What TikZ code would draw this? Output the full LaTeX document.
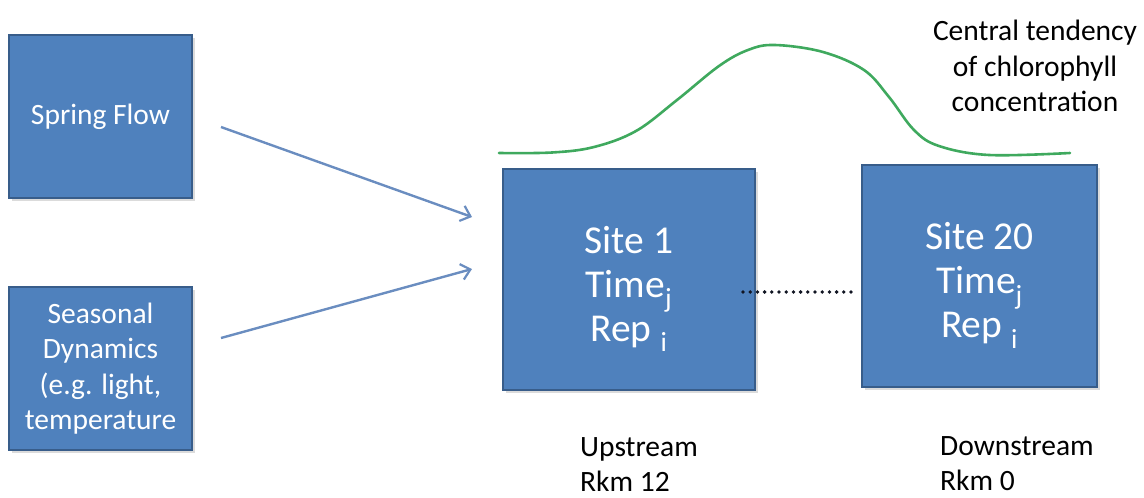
\documentclass[tikz,border=0pt]{standalone}
\usepackage{fontspec}
\setmainfont{Carlito}
\usetikzlibrary{arrows.meta,shadows}
\definecolor{boxfill}{HTML}{4F81BD}
\definecolor{boxline}{HTML}{385D8A}
\definecolor{arrowcol}{HTML}{6A8DC0}
\definecolor{curvecol}{HTML}{3FA95E}
\definecolor{dotcol}{HTML}{111522}
\tikzset{
  bluebox/.style={draw=boxline, line width=2pt, fill=boxfill, text=white,
    align=center, inner sep=0pt,
    drop shadow={shadow xshift=2.5pt, shadow yshift=-2.5pt, fill=black!28}},
  smalltext/.style={font=\fontsize{29.5}{35.5}\selectfont},
  bigtext/.style={font=\fontsize{39.5}{44}\selectfont},
  flowarrow/.style={draw=arrowcol, line width=2.4pt,
    -{Straight Barb[length=9pt,width=16pt,line width=2.2pt]}},
  dotline/.style={draw=dotcol, line width=3.8pt, line cap=round,
    dash pattern=on 0pt off 7.2pt},
  tendency/.style={draw=curvecol, line width=2.6pt, line cap=round}
}
\begin{document}
\begin{tikzpicture}[x=1pt,y=-1pt]
\useasboundingbox (0,0) rectangle (1144,498);
% input boxes
\node[bluebox, smalltext, minimum width=183pt, minimum height=163pt] (spring) at (100.5,116.5) {Spring Flow};
\node[bluebox, smalltext, minimum width=183pt, minimum height=163pt] (season) at (100.5,368.5) {Seasonal\\Dynamics\\(e.g. light,\\temperature};
% site boxes
\node[bluebox, bigtext, minimum width=252pt, minimum height=221pt] (site1) at (629,279.5) {\rule{0pt}{46pt}Site 1\\Time\textsubscript{j}\\Rep \textsubscript{i}};
\node[bluebox, bigtext, minimum width=235pt, minimum height=222pt] (site20) at (979.5,276) {\rule{0pt}{46pt}Site 20\\Time\textsubscript{j}\\Rep \textsubscript{i}};
% arrows
\coordinate (a1s) at (221,127);
\coordinate (a1e) at (472,217);
\coordinate (a2s) at (221,338);
\coordinate (a2e) at (472,269);
\draw[flowarrow] (a1s) -- (a1e);
\draw[flowarrow] (a2s) -- (a2e);
% dotted connection
\coordinate (d1) at (743,292);
\coordinate (d2) at (858,292);
\draw[dotline] (d1) -- (d2);
% chlorophyll curve
\draw[tendency] plot[smooth, tension=0.6] coordinates {
 (499,153) (552,152.5) (594,147) (636,131) (677,100) (719,66) (748,50)
 (775,45) (823,52) (864,70) (889,97) (914,130) (939,146) (989,155) (1070,153)};
% labels
\node[smalltext, align=center, anchor=north, inner sep=0pt] (central) at (1035,20) {Central tendency\\of chlorophyll\\concentration};
\node[smalltext, align=left, anchor=north west, inner sep=0pt] (up) at (580,437) {Upstream\\Rkm 12};
\node[smalltext, align=left, anchor=north west, inner sep=0pt] (down) at (940,436) {Downstream\\Rkm 0};
\end{tikzpicture}
\end{document}
